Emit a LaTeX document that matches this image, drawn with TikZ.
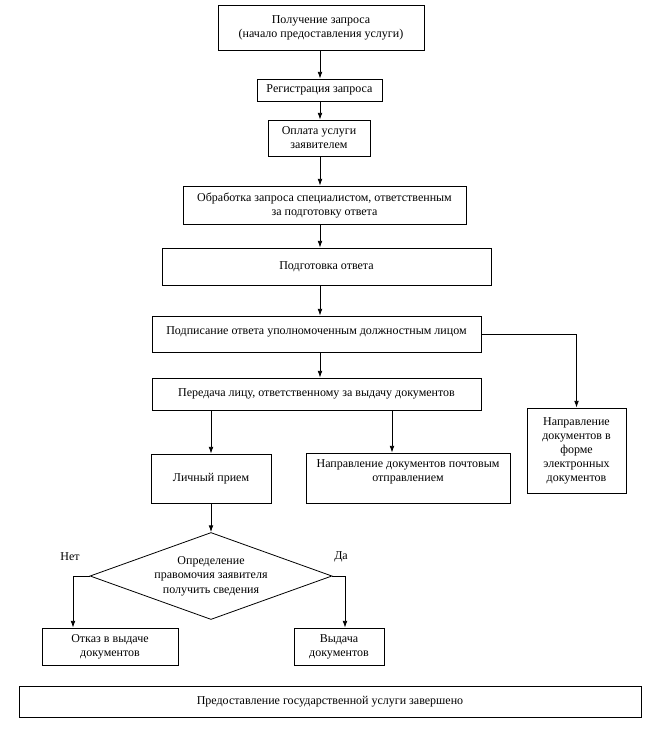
\documentclass[tikz,border=0pt]{standalone}
\usepackage{fontspec}
\setmainfont{Liberation Serif}
\usetikzlibrary{shapes.geometric,arrows.meta}
\tikzstyle{box}=[draw, rectangle, align=center, inner sep=2pt]
\tikzstyle{arr}=[-{Latex[length=5pt,width=3.5pt]}]

\begin{document}
\begin{tikzpicture}
        [x=0.75pt,y=-0.75pt,line width=0.6pt,font=\fontsize{9}{10.5}\selectfont,
         sz/.style 2 args={minimum width=#1*0.75pt,minimum height=#2*0.75pt}]
            \useasboundingbox (0,0) rectangle (656,734);
            \coordinate (axis) at (320,0);
            \node [box,sz={206}{45}] (zapros) at (321,27.5) {Получение запроса\\(начало предоставления услуги)};
            \node [box,sz={125}{22}] (reg) at (319.5,90) {Регистрация запроса};
            \node [box,sz={102}{36}] (oplata) at (319,138) {Оплата услуги\\заявителем};
            \node [box,sz={283}{38}] (obrab) at (324.5,205) {Обработка запроса специалистом, ответственным\\за подготовку ответа};
            \node [box,sz={329}{37}] (podg) at (326.5,266.5) {Подготовка ответа};
            \node [box,sz={329}{36},text depth=5pt] (podpis) at (316.5,334) {Подписание ответа уполномоченным должностным лицом};
            \node [box,sz={329}{32}] (peredacha) at (316.5,394) {Передача лицу, ответственному за выдачу документов};
            \node [box,sz={99}{85}] (elektr) at (576.5,450.5) {Направление\\документов в\\форме\\электронных\\документов};
            \node [box,sz={120}{49}] (lichny) at (211,478.5) {Личный прием};
            \node [box,sz={204}{50},text depth=11pt] (pochta) at (408,478) {Направление документов почтовым\\отправлением};
            \node [draw,diamond,aspect=2.8,inner sep=0pt,align=center,sz={242}{87},
                   font=\fontsize{9}{11}\selectfont] (romb) at (211,576) {Определение\\правомочия заявителя\\получить сведения};
            \node [box,sz={136}{37}] (otkaz) at (110,646.5) {Отказ в выдаче\\документов};
            \node [box,sz={90}{37}] (vydacha) at (339,646.5) {Выдача\\документов};
            \node [box,sz={622}{31}] (itog) at (330,701.5) {Предоставление государственной услуги завершено};
            \node (net) at (70,557) {Нет};
            \node (da) at (341,557) {Да};
            \foreach \a/\b in {zapros/reg,reg/oplata,oplata/obrab,obrab/podg,podg/podpis,podpis/peredacha}
                \draw [arr] (\a.south -| axis) -- (\b.north -| axis);
            \draw [arr] (podpis.east) -| (elektr.north);
            \coordinate (p2) at (392,0);
            \draw [arr] (peredacha.south -| lichny.north) -- (lichny.north);
            \draw [arr] (peredacha.south -| p2) -- (pochta.north -| p2);
            \draw [arr] (lichny.south) -- (romb.north);
            \coordinate (no) at (73,0);
            \coordinate (yes) at (345,0);
            \draw [arr] (romb.west) -- (romb.west -| no) -- (otkaz.north -| no);
            \draw [arr] (romb.east) -- (romb.east -| yes) -- (vydacha.north -| yes);
        \end{tikzpicture}
\end{document}
